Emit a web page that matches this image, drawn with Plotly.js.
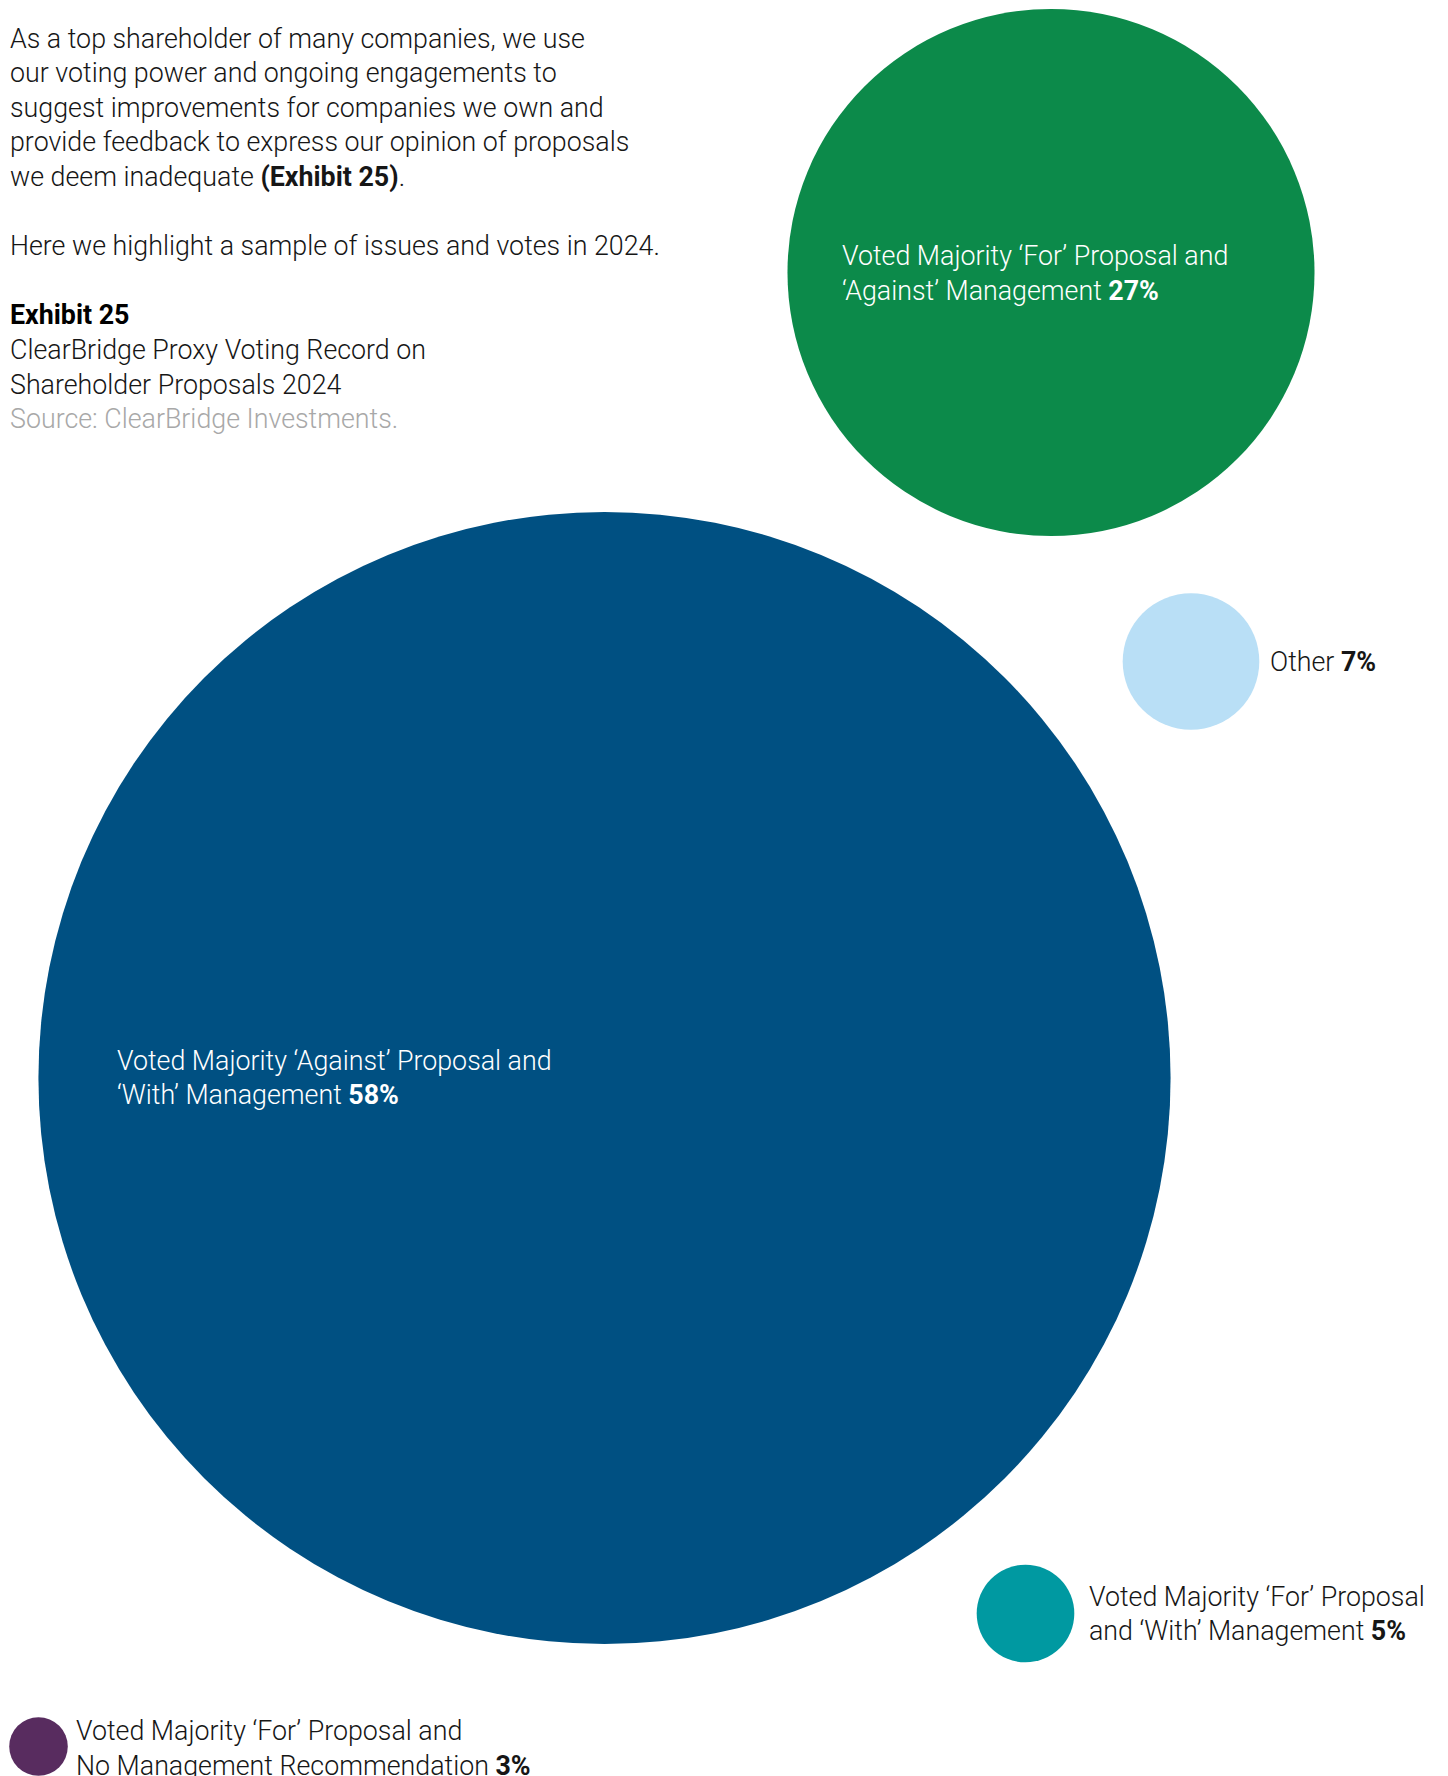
<!DOCTYPE html>
<html>
<head>
<meta charset="utf-8">
<script src="https://cdn.plot.ly/plotly-3.0.1.min.js"></script>
<style>
  html, body { margin: 0; padding: 0; background: #ffffff; }
  #chart { width: 1448px; height: 1776px; }
</style>
</head>
<body>
<div id="chart"></div>
<script>
// ---- Data ----
const categories = [
  "Voted Majority ‘Against’ Proposal and ‘With’ Management",
  "Voted Majority ‘For’ Proposal and ‘Against’ Management",
  "Other",
  "Voted Majority ‘For’ Proposal and ‘With’ Management",
  "Voted Majority ‘For’ Proposal and No Management Recommendation"
];
const values = [58, 27, 7, 5, 3];
const labelLines = [
  ["Voted Majority ‘Against’ Proposal and", "‘With’ Management"],
  ["Voted Majority ‘For’ Proposal and", "‘Against’ Management"],
  ["Other"],
  ["Voted Majority ‘For’ Proposal", "and ‘With’ Management"],
  ["Voted Majority ‘For’ Proposal and", "No Management Recommendation"]
];
const colors = ["#005082", "#0c8a4a", "#b9dff6", "#0099a1", "#582c5f"];
const labelColors = ["#ffffff", "#ffffff", "#161616", "#161616", "#161616"];

const introLines = [
  "As a top shareholder of many companies, we use",
  "our voting power and ongoing engagements to",
  "suggest improvements for companies we own and",
  "provide feedback to express our opinion of proposals",
  "we deem inadequate <b>(Exhibit 25)</b>.",
  "",
  "Here we highlight a sample of issues and votes in 2024."
];
const exhibitTitle = "Exhibit 25";
const exhibitSubtitle = ["ClearBridge Proxy Voting Record on", "Shareholder Proposals 2024"];
const sourceText = "Source: ClearBridge Investments.";

// ---- Layout (packed bubble placement, in page units) ----
const bubbleX = [604.5, 1051, 1191, 1025.5, 38.5];
const bubbleY = [1078, 272.5, 661.5, 1613.5, 1746.5];
const labelX = [115, 840, 1268, 1087, 74];
const labelY = [1060.5, 256, 661.5, 1596.5, 1731];
const lineGap = 34.8;
const pxPerPoint = 9.76; // radius px per percentage point

const FONT = "Roboto, 'Liberation Sans', Arial, sans-serif";
const FS = 26.8;
const W = 1448, H = 1776;

const trace = {
  type: "scatter",
  mode: "markers",
  x: bubbleX,
  y: bubbleY,
  text: categories,
  customdata: values,
  marker: {
    size: values,
    sizemode: "diameter",
    sizeref: 1 / (2 * pxPerPoint),
    color: colors,
    opacity: 1,
    line: { width: 0 }
  },
  hoverinfo: "skip",
  cliponaxis: false
};

const annotations = [];
function addLine(x, y, text, color) {
  annotations.push({
    xref: "x", yref: "y", x: x, y: y,
    text: text, showarrow: false,
    xanchor: "left", yanchor: "middle", align: "left",
    font: { family: FONT, size: FS, color: color, weight: 300 }
  });
}

// intro paragraph
const introY0 = 38.5;
introLines.forEach((t, i) => { if (t) addLine(8, introY0 + i * 34.6, t, "#161616"); });
addLine(8, 315, "<b>" + exhibitTitle + "</b>", "#000000");
exhibitSubtitle.forEach((t, i) => addLine(8, 350 + i * 34.6, t, "#161616"));
addLine(8, 419, sourceText, "#a8a8a8");

// bubble labels
labelLines.forEach((lines, i) => {
  lines.forEach((t, j) => {
    let txt = t;
    if (j === lines.length - 1) txt += " <b>" + values[i] + "%</b>";
    addLine(labelX[i], labelY[i] + j * lineGap, txt, labelColors[i]);
  });
});

const layout = {
  width: W, height: H,
  margin: { l: 0, r: 0, t: 0, b: 0 },
  paper_bgcolor: "#ffffff",
  plot_bgcolor: "#ffffff",
  showlegend: false,
  xaxis: { range: [0, W], visible: false, fixedrange: true },
  yaxis: { range: [H, 0], visible: false, fixedrange: true },
  annotations: annotations,
  font: { family: FONT }
};

Plotly.newPlot("chart", [trace], layout, { displayModeBar: false, staticPlot: true });
</script>
</body>
</html>
